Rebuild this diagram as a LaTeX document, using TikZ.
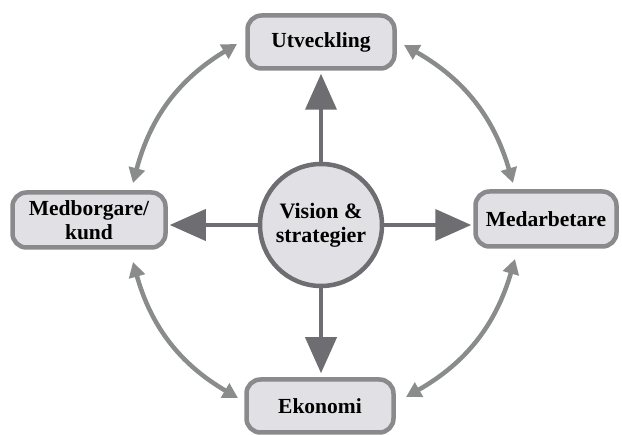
\documentclass[tikz,border=0pt]{standalone}
\usepackage{fontspec}
\setmainfont{Liberation Serif}
\usetikzlibrary{arrows.meta}
\definecolor{boxfill}{HTML}{E1E1E5}
\definecolor{boxline}{HTML}{8A8A8C}
\definecolor{darkarrow}{HTML}{6E6D72}
\definecolor{lightarrow}{HTML}{8A8C8C}
\begin{document}
\begin{tikzpicture}[x=1pt,y=-1pt,
  sbox/.style={draw=boxline,line width=4.5pt,fill=boxfill,rounded corners=14pt,
    align=center,font=\bfseries\fontsize{21.5}{23.5}\selectfont,inner sep=0pt},
  hub/.style={circle,draw=darkarrow,line width=4.5pt,fill=boxfill,minimum size=122pt,
    align=center,font=\bfseries\fontsize{22}{24}\selectfont,inner sep=0pt},
  spoke/.style={draw=darkarrow,line width=4pt,-{Triangle[length=36pt,width=31pt]}},
  loop/.style={draw=lightarrow,line width=4.5pt,{Triangle[length=15pt,width=16pt]}-{Triangle[length=15pt,width=16pt]}}]
\useasboundingbox (0,0) rectangle (622,435);
\node[sbox,minimum width=147pt,minimum height=53pt] (u) at (321,42) {Utveckling};
\node[sbox,minimum width=153pt,minimum height=55pt] (m) at (89,220) {Medborgare/\\kund};
\node[sbox,minimum width=141pt,minimum height=55pt] (r) at (546,219) {Medarbetare};
\node[sbox,minimum width=147pt,minimum height=53pt] (e) at (320,406) {Ekonomi};
\node[hub] (c) at (321,225) {Vision \&\\strategier};
\draw[spoke,shorten >=3pt] (c.north) -- (c.north |- u.south);
\draw[spoke,shorten >=2pt] (c.west) -- (c.west -| m.east);
\draw[spoke,shorten >=2pt] (c.east) -- (c.east -| r.west);
\draw[spoke,shorten >=4pt] (c.south) -- (c.south |- e.north);
\coordinate (tl1) at (133,183);
\coordinate (tl2) at (237,44);
\coordinate (tr1) at (404,45);
\coordinate (tr2) at (513,183);
\coordinate (bl1) at (133,262);
\coordinate (bl2) at (238,398);
\coordinate (br1) at (515,259);
\coordinate (br2) at (406,397);
\draw[loop] (tl1) to[bend left=22] (tl2);
\draw[loop] (tr1) to[bend left=22] (tr2);
\draw[loop] (br1) to[bend left=22] (br2);
\draw[loop] (bl2) to[bend left=22] (bl1);
\end{tikzpicture}
\end{document}
